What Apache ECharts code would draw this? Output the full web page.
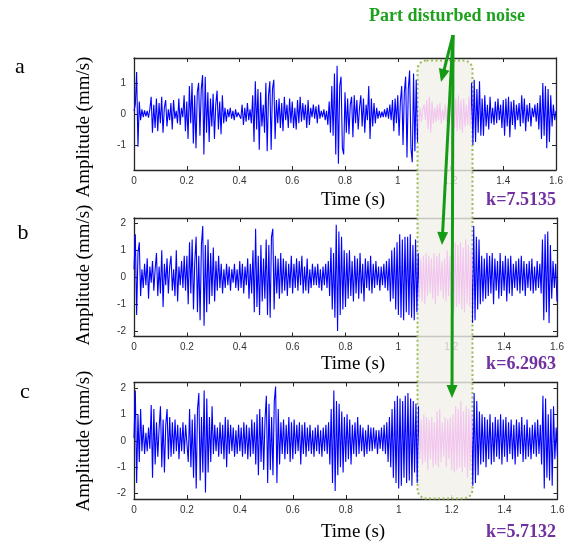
<!DOCTYPE html>
<html>
<head>
<meta charset="utf-8">
<script src="https://cdn.jsdelivr.net/npm/echarts@6/dist/echarts.min.js"></script>
<style>
html, body { margin: 0; padding: 0; background: #fff; }
#main { width: 573px; height: 544px; }
</style>
</head>
<body>
<div id="main"></div>
<script>
// sample step of the recorded signal (s), one row below = 0.1 s
var DT = 0.005;

// amplitude (mm/s), one value per sample
var ampA = [
  0.1, 0.3, 1.35, -1.05, 0.4, -0.2, 0.15, -0.1, 0.12, -0.08, 0.1, -0.12, 0.15, 0.55, -0.6, 0.3, -0.45, 0.5, -0.55, 0.35,
  -0.3, 0.55, -0.6, 0.2, 0.45, -0.4, 0.15, -0.2, 0.35, -0.5, 0.45, -0.15, 0.1, -0.3, 0.5, -0.35, 0.2, -0.1, 0.6, -0.55,
  0.4, -0.8, 0.9, -0.3, 1.0, -0.95, 0.6, -1.1, 0.7, 1.0, -0.7, 0.8, 1.25, -1.3, 1.2, -0.6, 0.7, -0.9, 0.5, -0.4,
  0.65, -0.8, 0.3, 0.75, -0.5, 0.4, -0.65, 0.6, -0.3, 0.2, -0.25, 0.15, -0.1, 0.2, -0.15, 0.1, -0.2, 0.15, -0.1, 0.05,
  0.1, -0.15, 0.3, -0.35, 0.2, -0.25, 0.35, -0.2, 0.15, -0.3, 0.6, -0.9, 1.05, -0.5, 0.8, -1.15, 0.7, -0.4, 0.3, -0.6,
  1.0, -1.2, 0.6, 1.05, -1.15, 0.8, 1.1, -0.8, 0.45, -0.3, 0.5, -0.45, 0.35, -0.55, 0.55, -0.2, 0.3, -0.45, 0.5, -0.3,
  0.4, -0.45, 0.2, -0.5, 0.45, -0.3, 0.55, -0.25, 0.35, -0.2, 0.3, -0.45, 0.45, -0.35, 0.2, -0.1, 0.3, -0.15, 0.25, -0.3,
  0.3, -0.15, 0.1, -0.1, 0.15, -0.2, 0.1, -0.35, 0.4, -0.6, 0.9, -0.7, 1.3, -1.3, 1.55, -1.6, 0.9, 1.2, -1.1, -1.3,
  0.7, -0.6, 0.5, -0.65, 0.3, 0.55, -0.75, 0.6, -0.3, 0.45, -0.5, 0.2, 0.6, -0.4, 0.5, -0.6, 0.3, -0.2, 0.9, -0.8,
  0.5, -0.4, 0.35, -0.3, 0.2, -0.15, 0.1, -0.12, 0.08, -0.1, 0.15, -0.1, 0.2, -0.15, 0.3, -0.2, 0.45, -0.55, 0.5, -0.3,
  0.6, -0.7, 0.4, 0.9, -1.0, 0.7, 1.2, -1.4, 0.8, 1.4, -1.1, -1.55, 1.3, -1.2, 1.1, -0.9, -0.3, 0.2, -0.25, 0.15,
  0.3, -0.2, 0.45, -0.5, 0.55, -0.6, 0.4, -0.3, 0.2, -0.25, 0.3, -0.2, 0.35, -0.3, 0.15, -0.2, 0.3, -0.25, 0.2, -0.15,
  0.35, -0.3, 0.4, -0.45, 0.5, -0.55, 0.6, -0.5, 0.45, -0.6, 0.5, -0.4, 0.3, -0.35, 0.55, -0.4, 1.0, -1.0, 1.1, -0.9,
  0.8, -0.6, 1.05, -0.7, 0.5, -0.7, 0.6, -0.4, 0.3, -0.5, 0.55, -0.3, 0.2, -0.35, 0.4, -0.3, 0.5, -0.2, 0.3, -0.45,
  0.45, -0.7, 0.5, -0.4, 0.55, -0.75, 0.4, -0.35, 0.45, -0.5, 0.3, -0.2, 0.35, -0.4, 0.6, -0.3, 0.5, -0.55, 0.3, -0.25,
  0.35, -0.4, 0.2, -0.1, 0.3, -0.25, 0.35, -0.5, 0.6, -0.8, 1.0, -0.7, 0.9, -1.1, 0.8, -0.9, 0.6, -0.4, 0.3, -0.2,
  0.1
];
var ampB = [
  0.3, 1.6, -1.4, 0.9, 1.3, -0.7, 0.3, -0.4, 0.5, -0.3, 0.7, -0.8, 0.4, -0.2, 0.6, -0.5, 0.3, 0.9, -0.7, 0.4,
  -0.6, 1.0, -1.1, 0.5, -0.3, 0.7, -0.6, 0.4, 0.8, -0.5, 0.3, -0.7, 1.0, -0.9, 0.4, -0.3, 0.6, -0.4, 0.8, -0.5,
  0.8, -1.0, 1.3, -0.6, 1.4, -1.2, 0.6, 1.5, -1.3, 0.8, -1.6, 1.2, 1.9, -1.8, 1.2, -1.3, 1.4, -1.0, 0.9, -0.7,
  1.1, -0.9, 0.6, -0.5, 0.8, -0.4, 0.5, -0.6, 0.3, -0.4, 0.5, -0.3, 0.4, -0.5, 0.3, -0.2, 0.5, -0.4, 0.3, -0.5,
  0.6, -0.4, 0.5, -0.6, 0.4, -0.3, 0.7, -0.8, 0.5, -0.6, 1.0, -1.3, 1.8, -1.1, 0.8, -1.4, 1.2, -0.9, 0.7, -0.8,
  1.4, -1.4, 1.2, -1.5, 1.5, 1.8, -1.2, 0.8, -0.6, 0.7, -0.8, 0.9, -0.6, 0.7, -0.5, 0.6, -0.7, 0.5, -0.4, 0.8,
  -0.6, 0.5, -0.4, 0.7, -0.5, 0.6, -0.3, 0.8, -0.6, 0.4, -0.5, 0.7, -0.6, 0.3, -0.4, 0.5, -0.3, 0.4, -0.3, 0.5,
  -0.4, 0.3, -0.5, 0.4, -0.3, 0.5, -0.4, 0.6, -0.7, 1.1, -1.2, 0.9, -1.5, 1.95, -2.0, 1.7, -1.4, 1.5, -1.2, 1.0,
  -1.1, 0.9, -0.8, 1.0, -0.7, 0.6, -0.9, 0.8, -0.6, 0.7, -0.8, 0.9, -0.6, 0.5, -0.9, 0.7, -0.4, 0.6, -0.5, 0.8,
  -0.6, 0.5, -0.4, 0.6, -0.3, 0.4, -0.5, 0.4, -0.3, 0.5, -0.4, 0.6, -0.5, 0.7, -0.9, 1.0, -0.8, 1.1, -1.2, 1.3,
  -1.4, 1.6, -1.5, 1.4, -1.6, 1.5, -1.3, 1.5, -1.4, 1.6, -1.5, 1.2, -1.6, 1.4, -1.3, 0.9, -0.8, 0.7, -0.9, 0.8,
  -1.0, 0.9, -0.7, 0.8, -0.6, 0.7, -0.8, 0.9, -1.0, 0.8, -0.7, 0.9, -0.5, 0.6, -0.8, 0.7, -0.9, 1.0, -0.7, 0.8,
  -1.0, 1.1, -1.2, 1.3, -1.1, 1.2, -1.0, 1.3, -1.2, 1.1, -1.3, 1.4, -1.0, 1.2, -1.1, 1.0, -1.7, 1.9, -1.6, 1.5,
  -1.2, 1.4, -1.0, 0.8, -0.9, 0.7, -0.8, 0.9, -0.7, 0.8, -0.6, 0.9, -1.0, 0.7, -0.5, 0.6, -0.8, 0.9, -0.7, 0.6,
  -0.5, 0.8, -0.9, 0.7, -0.6, 0.8, -0.7, 0.5, -0.4, 0.6, -0.5, 0.7, -0.6, 0.8, -0.5, 0.6, -0.7, 0.5, -0.4, 0.6,
  -0.5, 0.7, -0.6, 0.4, -0.5, 0.6, -0.4, 0.5, -0.6, 1.4, -1.6, 1.6, -1.3, 1.7, -1.7, 1.2, -0.8, 0.6, -0.4, 0.5,
  -0.9
];
var ampC = [
  0.1, 1.9, -1.6, 1.0, -0.8, 1.2, -0.4, 0.6, -0.5, 0.3, -0.4, 0.5, -0.3, 1.35, -1.4, 1.2, -0.9, 0.7, -0.6, 0.5,
  1.3, -1.0, 0.8, -1.2, 0.6, 1.2, -0.7, 0.9, -0.6, 0.7, -0.5, 0.8, -0.4, 0.6, -0.7, 0.5, -0.4, 0.7, -0.5, 0.6,
  0.6, -0.8, 1.2, -1.0, 0.8, -1.4, 1.0, -1.8, 1.2, 1.8, -1.5, 0.9, -1.2, 1.9, -1.95, 1.6, -1.2, 0.9, -0.8, 1.3,
  -0.5, 0.6, -0.4, 0.5, -0.6, 0.7, -0.5, 0.6, -0.7, 0.9, -1.0, 0.8, -0.5, 0.6, -0.4, 0.5, -0.6, 0.4, -0.5, 0.6,
  -0.4, 0.5, -0.6, 0.7, -0.5, 0.6, -0.7, 0.5, -0.6, 0.8, -0.5, 0.7, -0.9, 1.0, -1.3, 1.2, -0.8, 0.9, -1.1, 0.8,
  1.7, -1.6, 1.4, -1.1, 0.9, -1.3, 1.5, 2.05, -1.6, 1.2, -0.9, 0.7, -0.5, 0.8, -0.7, 0.6, -0.5, 0.9, -0.8, 0.7,
  -0.7, 0.8, -0.5, 0.6, -0.4, 0.7, -0.9, 0.6, -0.5, 0.7, -0.6, 0.5, -0.4, 0.6, -0.5, 0.4, -0.6, 0.5, -0.4, 0.6,
  -0.5, 0.4, -0.6, 0.5, -0.4, 0.6, -0.5, 0.7, -0.9, 1.2, -1.6, 1.9, -1.9, 1.5, -1.3, 1.4, -1.0, 1.1, -1.2, 0.9,
  -0.8, 1.0, -0.7, 0.8, -0.9, 0.6, -0.5, 0.7, -0.6, 0.9, -0.5, 0.6, -0.4, 0.5, -0.6, 0.4, -0.5, 0.6, -0.4, 0.5,
  -0.4, 0.5, -0.3, 0.4, -0.5, 0.4, -0.3, 0.5, -0.4, 0.6, -0.5, 0.7, -0.8, 0.9, -1.0, 1.2, -1.4, 1.5, -1.6, 1.7,
  -1.8, 1.6, -1.7, 1.5, -1.4, 1.7, -1.6, 1.8, -1.5, 1.6, -1.7, 1.5, -1.2, 1.4, -1.6, 1.3, -0.7, 0.8, -0.9, 1.0,
  -0.8, 0.9, -1.1, 0.8, -0.7, 0.9, -1.0, 0.7, -0.9, 1.1, -1.0, 1.2, -0.8, 0.7, -0.6, 0.9, -1.0, 0.8, -0.7, 0.9,
  -1.1, 1.0, -1.2, 1.3, -1.1, 1.2, -1.0, 1.5, -1.2, 1.1, -1.0, 1.3, -1.4, 1.2, -1.1, 1.0, -1.7, 1.8, -1.6, 1.5,
  -1.3, 1.1, -0.9, 1.0, -0.8, 0.9, -1.0, 0.8, -0.7, 1.0, -0.9, 0.7, -0.8, 0.9, -0.6, 0.8, -0.7, 1.0, -0.9, 0.8,
  -0.6, 0.9, -0.8, 0.7, -0.5, 0.8, -0.7, 0.6, -0.9, 0.8, -0.6, 0.7, -0.5, 0.9, -0.8, 0.6, -0.7, 0.8, -0.6, 0.5,
  -0.7, 0.6, -0.5, 0.7, -0.6, 0.8, -0.5, 0.6, -0.9, 1.7, -1.8, 1.6, -1.4, 1.0, -1.5, 1.2, -1.7, 1.3, -0.7, 0.5,
  -0.6
];

var panelLetters = ['a', 'b', 'c'];
var kValues = ['k=7.5135', 'k=6.2963', 'k=5.7132'];
var yTicksA = [-1, 0, 1];
var yTicksBC = [-2, -1, 0, 1, 2];
var noiseStart = 1.077, noiseEnd = 1.278;   // disturbed part, s

var BLUE = '#0000ff';
var PINK = '#f2c6ee';
var AXIS = '#262626';
var SERIF = '"Liberation Serif", "DejaVu Serif", serif';

var chart = echarts.init(document.getElementById('main'));

var panels = [
  { grid: { left: 134, right: 17, top: 58, height: 112 }, y: [-1.8, 1.8], ticks: yTicksA, amp: ampA },
  { grid: { left: 134, right: 16, top: 218, height: 118.5 }, y: [-2.2, 2.2], ticks: yTicksBC, amp: ampB },
  { grid: { left: 134, right: 15.5, top: 382.5, height: 116.5 }, y: [-2.2, 2.2], ticks: yTicksBC, amp: ampC }
];

function toPairs(arr) {
  return arr.map(function (v, i) { return [+(i * DT).toFixed(3), v]; });
}

var grids = [], xAxes = [], yAxes = [], series = [];
panels.forEach(function (p, i) {
  grids.push(p.grid);
  var line = { show: true, onZero: false, lineStyle: { color: AXIS, width: 1.3 } };
  var tick = { show: true, inside: true, length: 4, lineStyle: { color: AXIS, width: 1 } };
  // bottom axis with labels, top axis only for the frame
  xAxes.push({
    type: 'value', gridIndex: i, min: 0, max: 1.6, interval: 0.2, position: 'bottom',
    axisLine: line, axisTick: tick, splitLine: { show: false },
    axisLabel: { color: '#333', fontSize: 10, margin: 6, fontFamily: 'Liberation Sans' }
  });
  xAxes.push({
    type: 'value', gridIndex: i, min: 0, max: 1.6, interval: 0.2, position: 'top',
    axisLine: line, axisTick: tick, splitLine: { show: false }, axisLabel: { show: false }
  });
  yAxes.push({
    type: 'value', gridIndex: i, min: p.y[0], max: p.y[1], position: 'left',
    axisLine: line, splitLine: { show: false },
    axisTick: Object.assign({ customValues: p.ticks }, tick),
    axisLabel: { customValues: p.ticks, color: '#333', fontSize: 10, margin: 8, fontFamily: 'Liberation Sans' }
  });
  yAxes.push({
    type: 'value', gridIndex: i, min: p.y[0], max: p.y[1], position: 'right',
    axisLine: line, splitLine: { show: false },
    axisTick: Object.assign({ customValues: p.ticks }, tick),
    axisLabel: { show: false }
  });
  series.push({
    type: 'line', xAxisIndex: i * 2, yAxisIndex: i * 2,
    data: toPairs(p.amp), showSymbol: false, symbol: 'none',
    lineStyle: { width: 1.1 }, z: 3, animation: false
  });
});

// arrow annotation helpers
var arrowFrom = [453, 35];
var arrowTips = [[441, 82], [442, 245], [452, 398]];
var GREEN = '#159a15';
function arrow(tip) {
  var dx = tip[0] - arrowFrom[0], dy = tip[1] - arrowFrom[1];
  var len = Math.sqrt(dx * dx + dy * dy);
  var ux = dx / len, uy = dy / len;
  var bx = tip[0] - ux * 13, by = tip[1] - uy * 13;
  var nx = -uy * 5.5, ny = ux * 5.5;
  return [
    { type: 'line', z: 20, shape: { x1: arrowFrom[0], y1: arrowFrom[1], x2: bx + ux * 2, y2: by + uy * 2 },
      style: { stroke: GREEN, lineWidth: 3 } },
    { type: 'polygon', z: 20, shape: { points: [tip, [bx + nx, by + ny], [bx - nx, by - ny]] },
      style: { fill: GREEN } }
  ];
}

var graphics = [
  { type: 'rect', z: 1, shape: { x: 417.5, y: 60.5, width: 55, height: 438, r: 9 },
    style: { fill: 'rgba(241,240,234,0.8)', stroke: '#9bbb59', lineWidth: 2, lineDash: [2, 2.5] } },
  { type: 'text', z: 20, x: 447, y: 16,
    style: { text: 'Part disturbed noise', font: 'bold 18px ' + SERIF, fill: '#1fa01f', textAlign: 'center', textVerticalAlign: 'middle' } }
];
var letterPos = [[20, 67], [23, 233], [25, 392]];
var timePos = [200, 364, 532];
var ampPos = [127, 275, 441];
panels.forEach(function (p, i) {
  graphics.push({ type: 'text', z: 20, x: letterPos[i][0], y: letterPos[i][1],
    style: { text: panelLetters[i], font: '22px ' + SERIF, fill: '#000', textAlign: 'center', textVerticalAlign: 'middle' } });
  graphics.push({ type: 'text', z: 20, x: 353, y: timePos[i],
    style: { text: 'Time (s)', font: '19px ' + SERIF, fill: '#000', textAlign: 'center', textVerticalAlign: 'middle' } });
  graphics.push({ type: 'text', z: 20, x: 521, y: timePos[i],
    style: { text: kValues[i], font: 'bold 18px ' + SERIF, fill: '#7030a0', textAlign: 'center', textVerticalAlign: 'middle' } });
  graphics.push({ type: 'text', z: 20, x: 84, y: ampPos[i], rotation: Math.PI / 2,
    style: { text: 'Amplitude (mm/s)', font: '19px ' + SERIF, fill: '#000', textAlign: 'center', textVerticalAlign: 'middle' } });
});
arrowTips.forEach(function (t) { graphics = graphics.concat(arrow(t)); });

chart.setOption({
  animation: false,
  grid: grids,
  xAxis: xAxes,
  yAxis: yAxes,
  visualMap: {
    type: 'piecewise', show: false, dimension: 0, seriesIndex: [0, 1, 2],
    pieces: [
      { lt: noiseStart, color: BLUE },
      { gte: noiseStart, lte: noiseEnd, color: PINK },
      { gt: noiseEnd, color: BLUE }
    ]
  },
  series: series,
  graphic: graphics
});
</script>
</body>
</html>
